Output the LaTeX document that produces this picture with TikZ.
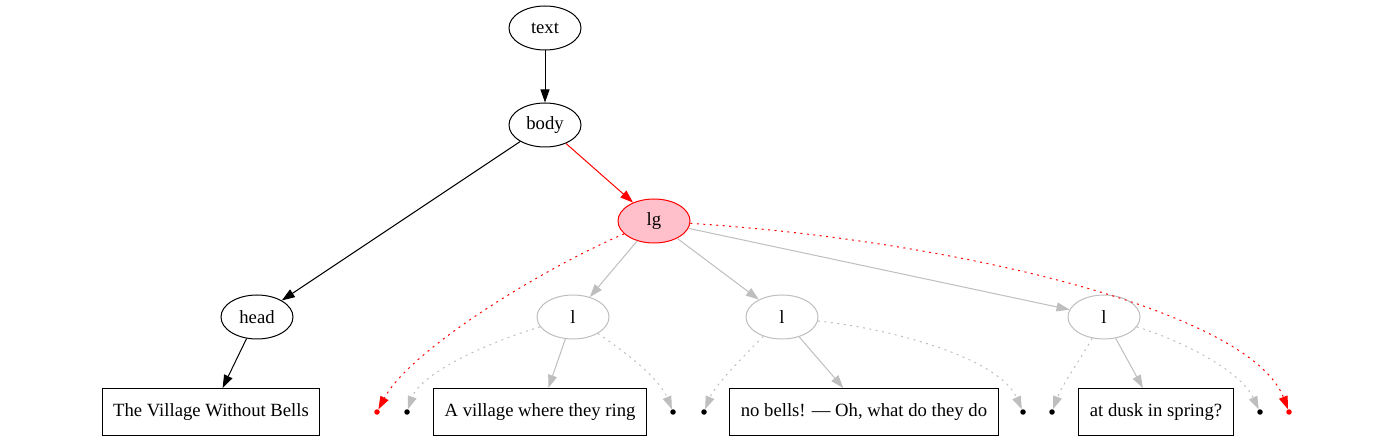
\documentclass[tikz,border=0pt]{standalone}
\usepackage{fontspec}
\setmainfont{Liberation Serif}
\usetikzlibrary{arrows.meta,shapes.geometric}
\definecolor{lgpink}{RGB}{255,192,203}
\definecolor{lgray}{RGB}{190,190,190}
\begin{document}
\begin{tikzpicture}[x=1pt, y=1pt, font=\fontsize{18.67}{22}\selectfont,
		elem/.style={draw, ellipse, minimum width=72pt, minimum height=44pt, inner sep=0pt, line width=1pt},
		ghost/.style={elem, draw=lgray},
		txtbox/.style={draw, rectangle, minimum height=47pt, inner xsep=11pt, line width=1pt},
		pt/.style={circle, fill, inner sep=0pt, minimum size=5.5pt},
		tip/.style={-{Triangle[length=13pt, width=9pt]}, line width=1pt},
		dots/.style={tip, dash pattern=on 2pt off 4.5pt}]
		\useasboundingbox (0,0) rectangle (1376,-443);
		\node[elem] (txt) at (545,-28) {text};
		\node[elem] (body) at (545,-125) {body};
		\node[elem, draw=red, fill=lgpink] (lg) at (654,-221) {lg};
		\node[elem] (head) at (257,-317) {head};
		\node[ghost] (l1) at (573,-317) {l};
		\node[ghost] (l2) at (782,-317) {l};
		\node[ghost] (l3) at (1104,-317) {l};
		\node[txtbox] (title) at (211,-412) {The Village Without Bells};
		\node[txtbox] (line1) at (540,-412) {A village where they ring};
		\node[txtbox] (line2) at (864,-412) {no bells! — Oh, what do they do};
		\node[txtbox] (line3) at (1156,-412) {at dusk in spring?};
		\node[pt, red] (r1) at (377,-412) {};
		\node[pt] (d1) at (407,-412) {};
		\node[pt] (d2) at (673,-412) {};
		\node[pt] (d3) at (704,-412) {};
		\node[pt] (d4) at (1023,-412) {};
		\node[pt] (d5) at (1052,-412) {};
		\node[pt] (d6) at (1260,-412) {};
		\node[pt, red] (r2) at (1289,-412) {};
		\draw[tip] (txt) -- (body);
		\draw[tip] (body) -- (head);
		\draw[tip, red] (body) -- (lg);
		\draw[tip] (head) -- (title);
		\draw[tip, lgray] (lg) -- (l1);
		\draw[tip, lgray] (lg) -- (l2);
		\draw[tip, lgray] (lg) -- (l3);
		\draw[tip, lgray] (l1) -- (line1);
		\draw[tip, lgray] (l2) -- (line2);
		\draw[tip, lgray] (l3) -- (line3);
		\draw[dots, red] (lg) .. controls (540,-270) and (410,-350) .. (r1);
		\draw[dots, red] (lg) .. controls (950,-240) and (1250,-310) .. (r2);
		\draw[dots, lgray] (l1) .. controls (480,-345) and (420,-375) .. (d1);
		\draw[dots, lgray] (l1) .. controls (630,-355) and (660,-380) .. (d2);
		\draw[dots, lgray] (l2) .. controls (745,-355) and (715,-385) .. (d3);
		\draw[dots, lgray] (l2) .. controls (900,-330) and (1000,-360) .. (d4);
		\draw[dots, lgray] (l3) .. controls (1080,-360) and (1062,-385) .. (d5);
		\draw[dots, lgray] (l3) .. controls (1180,-340) and (1240,-370) .. (d6);
	\end{tikzpicture}
\end{document}
